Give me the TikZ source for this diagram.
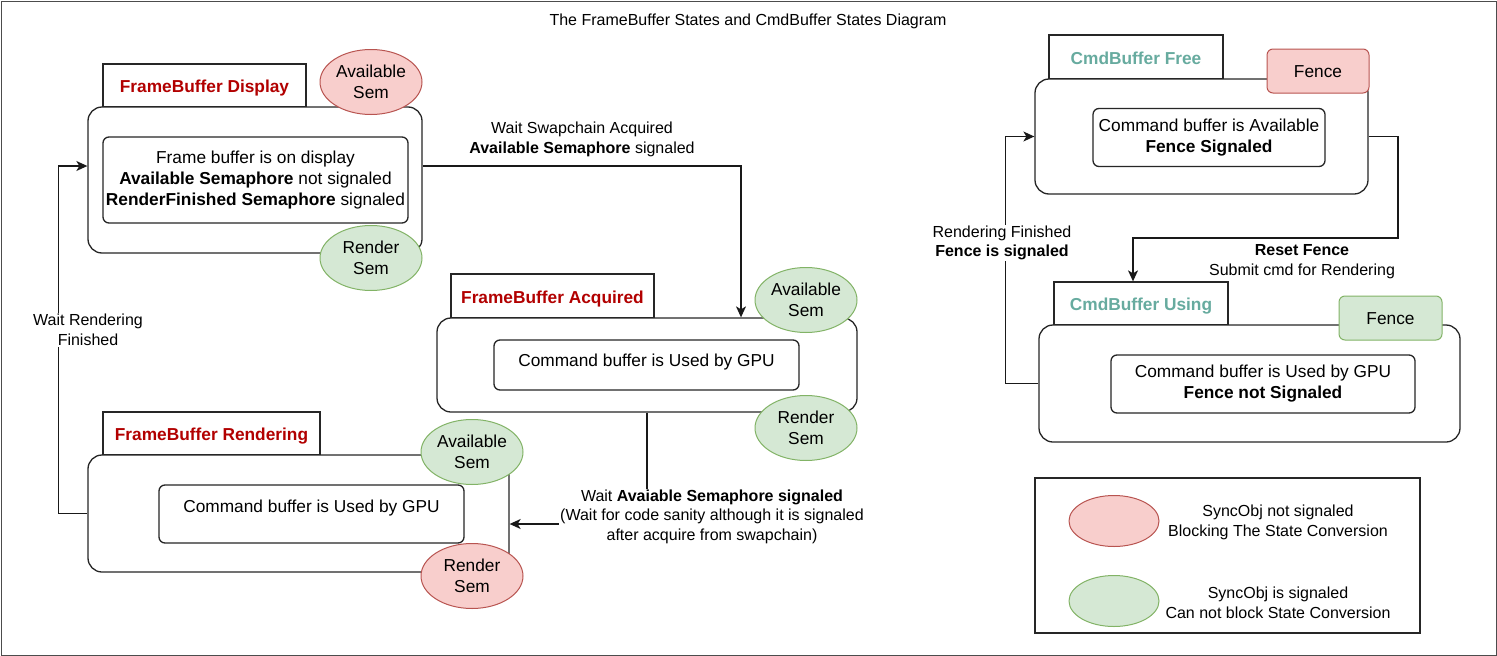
\documentclass[tikz,border=0pt]{standalone}
\usepackage{fontspec}
\setmainfont{Liberation Sans}
\usetikzlibrary{arrows.meta,shapes.geometric,calc}
\definecolor{redfill}{HTML}{F8CECC}
\definecolor{redline}{HTML}{B85450}
\definecolor{greenfill}{HTML}{D5E8D4}
\definecolor{greenline}{HTML}{82B366}
\definecolor{titlered}{HTML}{B20000}
\definecolor{cmdteal}{HTML}{67AB9F}
\newcommand{\szA}{\fontsize{17.3}{21}\selectfont}
\newcommand{\szB}{\fontsize{16}{19.5}\selectfont}
\begin{document}
\begin{tikzpicture}[x=1pt,y=-1pt,
  lw/.style={line width=1.3pt, draw=black!85},
  tabbox/.style={lw, fill=white, inner sep=0, font=\szA\bfseries, text=titlered, text height=14pt, text depth=0pt},
  cmdtab/.style={tabbox, text=cmdteal},
  statebox/.style={lw, fill=white, rounded corners=14pt, inner sep=0},
  innerbox/.style={lw, fill=white, rounded corners=6pt, inner sep=0, align=center, font=\szA},
  redsem/.style={ellipse, draw=redline, fill=redfill, line width=1pt, inner sep=0, minimum width=102pt, minimum height=65pt, align=center, font=\szA},
  greensem/.style={ellipse, draw=greenline, fill=greenfill, line width=1pt, inner sep=0, minimum width=102pt, minimum height=65pt, align=center, font=\szA},
  redfence/.style={draw=redline, fill=redfill, line width=1pt, rounded corners=6pt, inner sep=0, minimum width=102pt, minimum height=44pt, font=\szA, text height=13pt, text depth=0pt},
  greenfence/.style={draw=greenline, fill=greenfill, line width=1pt, rounded corners=6pt, inner sep=0, minimum width=103pt, minimum height=44pt, font=\szA, text height=13pt, text depth=0pt},
  arr/.style={line width=1.3pt, draw=black!90, -{Stealth[length=11pt,width=10pt,inset=3pt]}},
  lbl/.style={fill=white, align=center, inner sep=1pt, font=\szB},
  plain/.style={align=center, inner sep=0, font=\szA}
]
\useasboundingbox (0,0) rectangle (1497,656);
\draw[black!70, line width=1pt] (1,1) rectangle (1496,655);
\node[font=\szB] (title) at (748,21.5) {The FrameBuffer States and CmdBuffer States Diagram};

% FrameBuffer Display
\node[tabbox, minimum width=203pt, minimum height=43pt] (disptab) at (204.5,85.5) {FrameBuffer Display};
\node[statebox, minimum width=334pt, minimum height=146pt] (disp) at (255,180) {};
\node[innerbox, minimum width=305pt, minimum height=86pt] (dispin) at (255.5,180) {Frame buffer is on display\\\textbf{Available Semaphore} not signaled\\\textbf{RenderFinished Semaphore} signaled};
\node[redsem] (dispav) at (371,82) {Available\\Sem};
\node[greensem] (dispre) at (371,258) {Render\\Sem};

% FrameBuffer Acquired
\node[tabbox, minimum width=203pt, minimum height=44pt] (acqtab) at (552.5,296) {FrameBuffer Acquired};
\node[statebox, minimum width=420pt, minimum height=94pt] (acq) at (647,365) {};
\node[innerbox, minimum width=305pt, minimum height=50pt] (acqin) at (646.5,365) {};
\node[plain] (acqtxt) at (646.5,362) {Command buffer is Used by GPU};
\node[greensem] (acqav) at (806,300) {Available\\Sem};
\node[greensem] (acqre) at (806,428) {Render\\Sem};

% FrameBuffer Rendering
\node[tabbox, minimum width=217pt, minimum height=43pt] (rentab) at (211.5,433.5) {FrameBuffer Rendering};
\node[statebox, minimum width=421pt, minimum height=117pt] (ren) at (298.5,513.5) {};
\node[innerbox, minimum width=305pt, minimum height=58pt] (renin) at (311.5,514) {};
\node[plain] (rentxt) at (311.5,508) {Command buffer is Used by GPU};
\node[greensem] (renav) at (472,452) {Available\\Sem};
\node[redsem] (renre) at (472,576) {Render\\Sem};

% CmdBuffer Free
\node[cmdtab, minimum width=174pt, minimum height=44pt] (freetab) at (1136,57) {CmdBuffer Free};
\node[statebox, minimum width=333pt, minimum height=115pt] (free) at (1201.5,136.5) {};
\node[innerbox, minimum width=232pt, minimum height=58pt] (freein) at (1209,137.5) {Command buffer is Available\\\textbf{Fence Signaled}};
\node[redfence] (freefence) at (1318,71) {Fence};

% CmdBuffer Using
\node[cmdtab, minimum width=174pt, minimum height=43pt] (usetab) at (1141,303.5) {CmdBuffer Using};
\node[statebox, minimum width=421pt, minimum height=117pt] (use) at (1249.5,383.5) {};
\node[innerbox, minimum width=304pt, minimum height=58pt] (usein) at (1263,384) {Command buffer is Used by GPU\\\textbf{Fence not Signaled}};
\node[greenfence] (usefence) at (1390.5,318) {Fence};

% connectors
\draw[arr] (disp.east |- 0,166) -| (741,0 |- acq.north);
\draw[arr] (acq.south) |- (ren.east |- 0,524);
\draw[arr] (ren.west) -- ++(-29,0) |- (disp.west |- 0,166);
\draw[arr] (free.east) -| (1398,238) -| (1133,0 |- usetab.north);
\draw[arr] (use.west) -- ++(-33,0) |- (free.west);

\node[lbl] (l1) at (582,139.5) {Wait Swapchain Acquired\\\textbf{Available Semaphore} signaled};
\node[lbl] (l2) at (712,516.5) {Wait \textbf{Avaiable Semaphore signaled}\\(Wait for code sanity although it is signaled\\after acquire from swapchain)};
\node[lbl] (l3) at (88,330) {Wait Rendering\\Finished};
\node[lbl] (l4) at (1302,261.5) {\textbf{Reset Fence}\\Submit cmd for Rendering};
\node[lbl] (l5) at (1002,243) {Rendering Finished\\\textbf{Fence is signaled}};

% legend
\node[lw, minimum width=385pt, minimum height=155pt, inner sep=0] (leg) at (1227.5,555.5) {};
\node[redsem, minimum width=90pt, minimum height=51pt] (legred) at (1114,521) {};
\node[greensem, minimum width=90pt, minimum height=51pt] (leggreen) at (1114,601) {};
\node[align=center, font=\szB] (legt1) at (1278,522.5) {SyncObj not signaled\\Blocking The State Conversion};
\node[align=center, font=\szB] (legt2) at (1278,603) {SyncObj is signaled\\Can not block State Conversion};
\end{tikzpicture}
\end{document}
